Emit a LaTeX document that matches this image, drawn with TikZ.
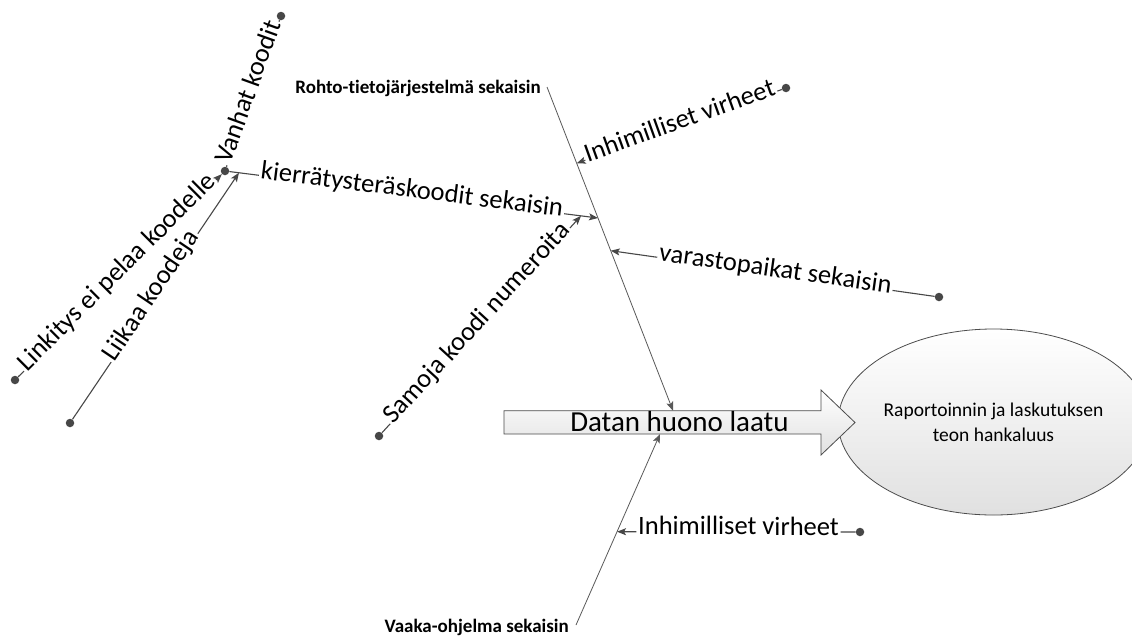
\documentclass[tikz,border=0pt]{standalone}
\usepackage{fontspec}
\setmainfont{Carlito}[Ligatures=CommonOff]
\usetikzlibrary{arrows.meta,calc,shapes.geometric}
\begin{document}
\begin{tikzpicture}[x=1pt,y=-1pt,
  conn/.style={draw=black!72, line width=1.1pt},
  tipped/.style={conn, -{Stealth[length=9pt,width=7pt,inset=2pt]}},
  spine/.style={draw=black!65, line width=0.8pt, -{Stealth[length=9pt,width=7pt,inset=2pt]}},
  dotnode/.style={circle, fill=black!72, inner sep=0pt, minimum size=8.5pt},
  lbl/.style={font=\fontsize{26.5}{30}\selectfont, inner sep=1.5pt, text height=0.62em, text depth=0pt},
  catlbl/.style={font=\bfseries\fontsize{19}{22}\selectfont, inner sep=0pt}
]
\fill[white] (0,0) rectangle (1132,635);
\useasboundingbox (0,0) rectangle (1132,635);

% effect ellipse
\node[ellipse, draw=black!70, line width=0.8pt, top color=white, bottom color=black!12,
      minimum width=277pt, minimum height=186pt, inner sep=0pt, align=center,
      font=\fontsize{19.5}{24.7}\selectfont] (eff) at (993.5,422)
      {Raportoinnin ja laskutuksen\\teon hankaluus};

% main arrow
\draw[draw=black!70, line width=0.8pt, top color=white, bottom color=black!12]
  (504,410.7) -- (821,410.7) -- (821,390) -- (855,422.5) -- (821,455) -- (821,434) -- (504,434) -- cycle;
\node[font=\fontsize{29}{34}\selectfont, anchor=base, inner sep=0pt] (datan) at (679.5,431.7) {Datan huono laatu};

% spines
\coordinate (sTop) at (547,87);
\coordinate (sTopEnd) at (673,410.7);
\coordinate (sBot) at (576,625);
\coordinate (sBotEnd) at (660,434);
\draw[spine] (sTop) -- (sTopEnd);
\draw[spine] (sBot) -- (sBotEnd);
\node[catlbl, anchor=base east] (rohto) at (541,93) {Rohto-tietojärjestelmä sekaisin};
\node[catlbl, anchor=base east] (vaaka) at (569,632) {Vaaka-ohjelma sekaisin};

% points on spines
\coordinate (mI) at ($(sTop)!0.2357!(sTopEnd)$);
\coordinate (mK) at ($(sTop)!0.4047!(sTopEnd)$);
\coordinate (mV) at ($(sTop)!0.5057!(sTopEnd)$);
\coordinate (vI) at ($(sBot)!0.4885!(sBotEnd)$);

% dots
\node[dotnode] (j) at (225,171) {};
\node[dotnode] (dV) at (281,16) {};
\node[dotnode] (dL) at (15,380) {};
\node[dotnode] (dLi) at (70,423) {};
\node[dotnode] (dS) at (379,436) {};
\node[dotnode] (dI) at (786,88) {};
\node[dotnode] (dVa) at (939,297) {};
\node[dotnode] (dI2) at (860,532) {};

% kierratys branch
\path (j.center) -- node[lbl, sloped, midway] (tK) {kierrätysteräskoodit sekaisin} (mK);
\draw[conn] (j) -- (tK.west);
\draw[tipped] (tK.east) -- (mK);

\coordinate (kL) at ($(j.center)!0.0374!(mK)$);
\coordinate (kS) at ($(j.center)!0.9545!(mK)$);

% Vanhat koodit
\path (j.center) -- node[lbl, sloped, midway] (tV) {Vanhat koodit} (dV.center);
\draw[conn] (dV) -- (tV.east);
\draw[conn] (tV.west) -- (j);

% Linkitys
\path (dL.center) -- node[lbl, sloped, midway] (tL) {Linkitys ei pelaa koodelle} (j.center);
\draw[conn] (dL) -- (tL.west);
\draw[tipped] (tL.east) -- (j);

% Liikaa koodeja
\path (dLi.center) -- node[lbl, sloped, midway] (tLi) {Liikaa koodeja} (kL);
\draw[conn] (dLi) -- (tLi.west);
\draw[tipped] (tLi.east) -- (kL);

% Samoja koodi numeroita
\path (dS.center) -- node[lbl, sloped, midway] (tS) {Samoja koodi numeroita} (kS);
\draw[conn] (dS) -- (tS.west);
\draw[tipped] (tS.east) -- (kS);

% Inhimilliset virheet (upper)
\path (mI) -- node[lbl, sloped, midway] (tI) {Inhimilliset virheet} (dI.center);
\draw[tipped] (tI.west) -- (mI);
\draw[conn] (tI.east) -- (dI);

% varastopaikat
\path (mV) -- node[lbl, sloped, midway] (tVa) {varastopaikat sekaisin} (dVa.center);
\draw[tipped] (tVa.west) -- (mV);
\draw[conn] (tVa.east) -- (dVa);

% Inhimilliset virheet (lower)
\path (vI) -- node[lbl, sloped, midway] (tI2) {Inhimilliset virheet} (dI2.center);
\draw[tipped] (tI2.west) -- (vI);
\draw[conn] (tI2.east) -- (dI2);
\end{tikzpicture}
\end{document}
